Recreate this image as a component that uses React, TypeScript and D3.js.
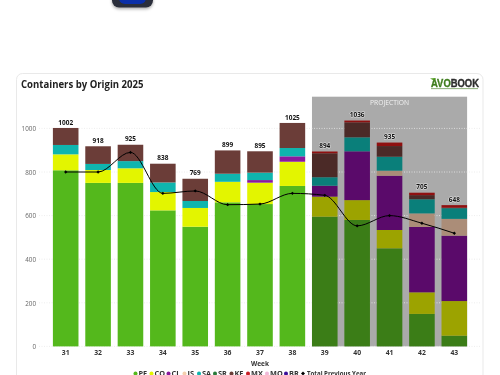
import React from "react";
import * as d3 from "d3";

const weeks = ["31","32","33","34","35","36","37","38","39","40","41","42","43"];
const projectedWeeks = ["39","40","41","42","43"];
const PE = [808,750,750,624,549,661,653,736,595,580,450,149,49];
const CO = [73,59,67,84,86,94,98,111,92,91,84,99,159];
const CL = [0,0,0,0,0,0,12,25,50,224,249,300,300];
const JS = [0,0,0,0,0,0,0,0,0,0,23,62,77];
const SA = [43,28,33,44,32,37,34,38,39,64,64,65,49];
const SR = [0,0,0,0,0,0,0,0,0,0,0,0,0];
const KE = [78,81,75,86,102,107,98,115,110,69,49,19,2];
const MX = [0,0,0,0,0,0,0,0,8,8,16,11,12];
const totals = [1002,918,925,838,769,899,895,1025,894,1036,935,705,648];
const previousYear = [800,800,890,702,713,650,653,702,693,553,600,565,519];
const yTicks = [0,200,400,600,800,1000];
const seriesNames = ["PE","CO","CL","JS","SA","SR","KE","MX","MO","BR"];
const seriesValues = [PE,CO,CL,JS,SA,SR,KE,MX];
const seriesColors = ["#54b81c","#e3f500","#8a1a9e","#f5cfae","#0fb5ae","#2a7a3a","#6b3d38","#c81d25","#f0b8d8","#3b0f9a"];
const projectedColors = ["#3b7d17","#9ca300","#5a0a6a","#ab8d78","#0a7f7a","#1f5a2a","#4b2a27","#8f1010"];
const legendTotal = "Total Previous Year";
const legendGap = [16,17,16,14.5,16,16.5,16.5,19,19,17];

const font = "'Open Sans', sans-serif";

export default function App() {
  const x = d3.scaleBand<string>().domain(weeks).range([49.5, 470.5]).paddingInner(0.21).paddingOuter(0.105);
  const y = d3.scaleLinear().domain([0, 1000]).range([346.4, 128.4]);
  const line = d3.line<number>()
    .x((_, i) => (x(weeks[i]) as number) + x.bandwidth() / 2)
    .y((d) => y(d))
    .curve(d3.curveMonotoneX);
  const firstP = x(projectedWeeks[0]) as number;
  const lastP = (x(projectedWeeks[projectedWeeks.length - 1]) as number) + x.bandwidth();
  let lx = 135.5;
  const legendXs = legendGap.map((g) => { const v = lx; lx += g; return v; });
  return (
    <svg width={500} height={375} style={{ position: "fixed", left: 0, top: 0, fontFamily: font, filter: "blur(0.35px)" }}>
      <defs>
        <filter id="sh" x="-20%" y="-20%" width="140%" height="160%">
          <feDropShadow dx="0" dy="1.5" stdDeviation="1.5" floodColor="#000" floodOpacity="0.35" />
        </filter>
      </defs>
      <rect width={500} height={375} fill="#fff" />
      <rect x={112} y={-20} width={41} height={27.5} rx={7} fill="#2b2e3a" filter="url(#sh)" />
      <rect x={119} y={-20} width={27} height={24} rx={6} fill="#0b2fa8" />
      <rect x={16.5} y={73.5} width={466.5} height={320} rx={6} fill="#fff" stroke="#e9e9e9" strokeWidth={1} />
      <text x={21} y={87.5} fontSize={10.4} fontWeight={700} fill="#222" textLength={122.5} lengthAdjust="spacingAndGlyphs">Containers by Origin 2025</text>

      <text x={431} y={87.4} fontSize={10.2} fontWeight={700} fontFamily="'Liberation Sans', sans-serif" textLength={48} lengthAdjust="spacingAndGlyphs" strokeWidth={0.35} paintOrder="stroke">
        <tspan fill="#3f7d1e" stroke="#3f7d1e">AVO</tspan><tspan fill="#2b2b2b" stroke="#2b2b2b">BOOK</tspan>
      </text>
      <path d="M430 78.5 L436 78 L434 80.5 Z" fill="#4f9a1f" />
      <rect x={431} y={88.3} width={47} height={0.8} fill="#6f9a58" />

      <rect x={firstP} y={96.7} width={lastP - firstP} height={346.4 - 96.7} fill="#aaaaaa" />
      <text x={(firstP + lastP) / 2} y={104.7} textAnchor="middle" fontSize={7.4} fill="#f2f2f2" textLength={39} lengthAdjust="spacingAndGlyphs">PROJECTION</text>

      {yTicks.map((t) => (
        <g key={t}>
          <line x1={39} x2={480} y1={y(t)} y2={y(t)} stroke="#e8e8e8" strokeWidth={0.8} strokeDasharray="1 1.5" />
          <text x={36} y={y(t) + 2.7} textAnchor="end" fontSize={7.2} fill="#666" textLength={String(t).length * 3.6} lengthAdjust="spacingAndGlyphs">{t}</text>
        </g>
      ))}

      {weeks.map((w, i) => {
        const proj = projectedWeeks.includes(w);
        let acc = 0;
        const cx = (x(w) as number) + x.bandwidth() / 2;
        return (
          <g key={w}>
            {seriesValues.map((s, k) => {
              const v = s[i];
              const y1 = y(acc);
              acc += v;
              if (!v) return null;
              return <rect key={k} x={x(w)} y={y(acc)} width={x.bandwidth()} height={y1 - y(acc)} fill={proj ? projectedColors[k] : seriesColors[k]} />;
            })}
            <text x={cx} y={y(totals[i]) - 3.3} textAnchor="middle" fontSize={7.5} fontWeight={700} fill="#111" stroke="#fff" strokeOpacity={0.6} strokeWidth={1.2} paintOrder="stroke" textLength={String(totals[i]).length * 3.7} lengthAdjust="spacingAndGlyphs">{totals[i]}</text>
            <text x={cx} y={355.4} textAnchor="middle" fontSize={7.6} fontWeight={700} fill="#333" textLength={7.8} lengthAdjust="spacingAndGlyphs">{w}</text>
          </g>
        );
      })}

      <path d={line(previousYear) as string} fill="none" stroke="#000" strokeWidth={1} />
      {previousYear.map((v, i) => {
        const cx = (x(weeks[i]) as number) + x.bandwidth() / 2;
        return <path key={i} d={d3.symbol().type(d3.symbolDiamond2).size(7)() as string} transform={`translate(${cx},${y(v)})`} fill="#000" />;
      })}

      <text x={260} y={365.8} textAnchor="middle" fontSize={7.4} fontWeight={700} fill="#333" textLength={18} lengthAdjust="spacingAndGlyphs">Week</text>
      {seriesNames.map((n, i) => (
        <g key={n}>
          <circle cx={legendXs[i]} cy={373.5} r={2} fill={seriesColors[i]} />
          <text x={legendXs[i] + 3} y={376} fontSize={7.3} fontWeight={700} fill="#333">{n}</text>
        </g>
      ))}
      <path d={d3.symbol().type(d3.symbolDiamond2).size(10)() as string} transform={`translate(${lx},373.5)`} fill="#000" />
      <text x={lx + 4} y={376} fontSize={7.3} fontWeight={700} fill="#333" textLength={59} lengthAdjust="spacingAndGlyphs">{legendTotal}</text>
    </svg>
  );
}
